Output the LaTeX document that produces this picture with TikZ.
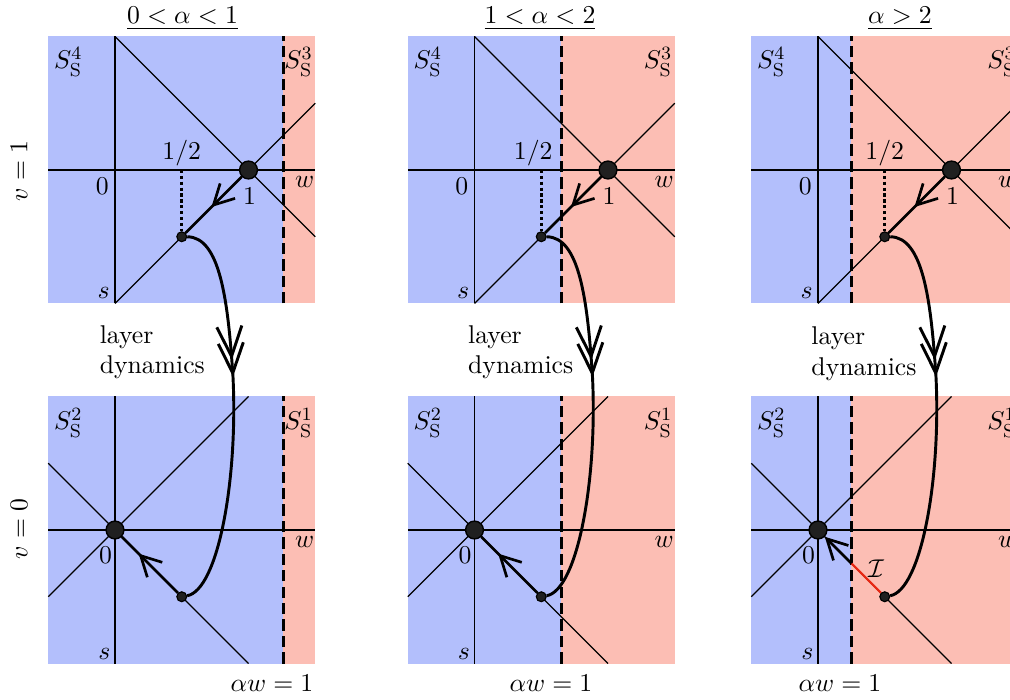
\documentclass[tikz,border=0pt]{standalone}
\usetikzlibrary{arrows.meta,decorations.markings}
\definecolor{regblue}{RGB}{179,191,252}
\definecolor{regpink}{RGB}{252,190,180}
\definecolor{segred}{RGB}{232,40,20}
\definecolor{dotfill}{RGB}{32,32,32}
\begin{document}
\begin{tikzpicture}[x=0.42626pt, y=-0.42626pt,
  every node/.style={font=\fontsize{10.95}{13}\selectfont},
  thinline/.style={line width=0.5pt},
  thresh/.style={line width=1.2pt, dash pattern=on 4.8pt off 2.2pt},
  dotline/.style={line width=1.2pt, dash pattern=on 1.4pt off 1.1pt},
  bigdot/.style={circle, fill=dotfill, draw=black, line width=0.6pt, minimum size=7.6pt, inner sep=0pt},
  smalldot/.style={circle, fill=dotfill, draw=black, line width=0.5pt, minimum size=4.2pt, inner sep=0pt},
  flow/.style={line width=1.15pt},
  fastflow/.style={line width=1.25pt},
  midarrow/.style={postaction={decorate}, decoration={markings,
     mark=at position #1 with {\arrow{Straight Barb[length=8.5pt,width=9pt]}}}},
  dblarrow/.style={postaction={decorate}, decoration={markings,
     mark=at position 0.999 with {\arrow{Straight Barb[length=12.8pt,width=10.7pt]}},
     mark=at position -7.2pt with {\arrow{Straight Barb[length=12.8pt,width=10.7pt]}}}},
  regionlabel/.style={inner sep=0pt},
]
\useasboundingbox (0,0) rectangle (1010,700);

\node[rotate=90] (v1) at (19,171) {$v=1$};
\node[rotate=90] (v0) at (19,529) {$v=0$};

\foreach \i/\X/\d/\tx/\ttl/\hx/\lx/\ly/\ax in {
  1/115/1.26/182.5/{$0<\alpha<1$}/0.5/99.3/325/272,
  2/474.5/0.65/540/{$1<\alpha<2$}/0.44/467.7/325/551,
  3/818/0.25/900/{$\alpha>2$}/0.5/811/326.7/840} {
  % title
  \node[anchor=base] (title\i) at (\tx,24) {\underline{\ttl}};
  % ---------- top panel (v = 1)
  \begin{scope}[shift={(\X,170)}, x=2cm, y=2cm]
    \fill[regblue] (-0.5,-1) rectangle (\d,1);
    \fill[regpink] (\d,-1) rectangle (1.5,1);
    \draw[thinline] (-0.5,0) -- (1.5,0);
    \draw[thinline] (0,-1) -- (0,1);
    \draw[thinline] (0,1) -- (1.5,-0.5);
    \draw[thinline] (0,-1) -- (1.5,0.5);
    \draw[thresh] (\d,-1) -- (\d,1);
    \node[bigdot] (one\i) at (1,0) {};
    \node[smalldot] (dtop\i) at (0.5,-0.5) {};
    \coordinate (half\i) at (0.5,0);
    \draw[dotline] (half\i) -- (dtop\i);
    \draw[flow, midarrow=0.54] (one\i) -- (dtop\i);
    \node[regionlabel, anchor=north west] (Sfour\i) at (-0.46,0.921) {$S_{\mathrm{S}}^4$};
    \node[regionlabel, anchor=north east] (Sthree\i) at (1.485,0.921) {$S_{\mathrm{S}}^3$};
    \node (ztop\i) at (-0.095,-0.12) {$0$};
    \node (wtop\i) at (1.42,-0.09) {$w$};
    \node (stop\i) at (-0.085,-0.92) {$s$};
    \node (lone\i) at (1.008,-0.195) {$1$};
    \node (lhalf\i) at (\hx,0.127) {$1/2$};
  \end{scope}
  % ---------- bottom panel (v = 0)
  \begin{scope}[shift={(\X,530)}, x=2cm, y=2cm]
    \fill[regblue] (-0.5,-1) rectangle (\d,1);
    \fill[regpink] (\d,-1) rectangle (1.5,1);
    \draw[thinline] (-0.5,0) -- (1.5,0);
    \draw[thinline] (0,-1) -- (0,1);
    \draw[thinline] (-0.5,-0.5) -- (1,1);
    \draw[thinline] (-0.5,0.5) -- (1,-1);
    \draw[thresh] (\d,-1) -- (\d,1);
    \node[bigdot] (zero\i) at (0,0) {};
    \node[smalldot] (dbot\i) at (0.5,-0.5) {};
    \node[regionlabel, anchor=north west] (Stwo\i) at (-0.46,0.914) {$S_{\mathrm{S}}^2$};
    \node[regionlabel, anchor=north east] (Sone\i) at (1.485,0.914) {$S_{\mathrm{S}}^1$};
    \node (zbot\i) at (-0.07,-0.19) {$0$};
    \node (wbot\i) at (1.42,-0.09) {$w$};
    \node (sbot\i) at (-0.08,-0.93) {$s$};
  \end{scope}
  \node (aw\i) at (\ax,683.5) {$\alpha w=1$};
  % ---------- layer dynamics
  \node[anchor=north west, inner sep=0pt, align=left] (ld\i) at (\lx,\ly) {layer\\dynamics};
  \begin{scope}[shift={(\X,0)}]
    \coordinate (cm\i) at (118,377);
    \draw[fastflow, dblarrow] (dtop\i) .. controls (105,237) and (113,300) .. (cm\i);
    \draw[fastflow] (cm\i) .. controls (123,480) and (103,590) .. (dbot\i);
  \end{scope}
}

% slow flow in the bottom panels
\draw[flow, midarrow=0.70] (dbot1) -- (zero1);
\draw[flow, midarrow=0.70] (dbot2) -- (zero2);
\begin{scope}[shift={(818,530)}, x=2cm, y=2cm]
  \coordinate (cross3) at (0.25,-0.25);
  \draw[segred, line width=0.9pt] (dbot3) -- (cross3);
  \draw[flow, -{Straight Barb[length=8.5pt,width=9pt]}] (cross3) -- (zero3);
  \node (Ilab) at (0.434,-0.288) {$\mathcal{I}$};
\end{scope}
\end{tikzpicture}
\end{document}
